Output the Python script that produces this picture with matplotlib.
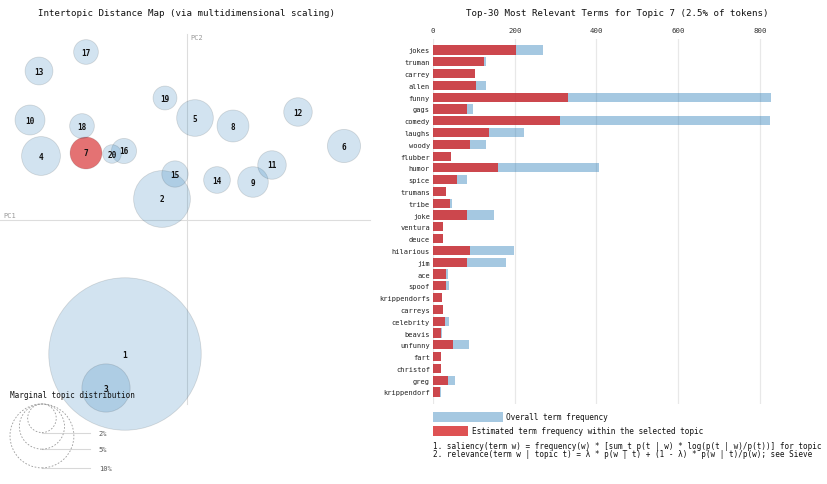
import matplotlib
matplotlib.use("Agg")
import matplotlib.pyplot as plt
from matplotlib.patches import Circle, Rectangle
import numpy as np

plt.rcParams['font.family'] = ['DejaVu Sans Mono', 'Liberation Mono']

# intertopic distance map (PC1 / PC2 coordinates, marginal share in %)
topics = list(range(1, 21))
pc1 = [-0.124, -0.050, -0.162, -0.292, 0.016, 0.314, -0.202, 0.092, 0.132, -0.314,
       0.170, 0.222, -0.296, 0.060, -0.024, -0.126, -0.202, -0.210, -0.044, -0.150]
pc2 = [-0.268, 0.042, -0.336, 0.128, 0.204, 0.148, 0.134, 0.188, 0.076, 0.200,
       0.110, 0.216, 0.298, 0.080, 0.092, 0.138, 0.336, 0.188, 0.244, 0.132]
topic_pct = [57.0, 7.9, 5.7, 3.7, 3.3, 2.7, 2.5, 2.5, 2.3, 2.2,
             2.0, 2.0, 1.9, 1.75, 1.7, 1.55, 1.5, 1.5, 1.4, 0.85]
selected = 7
guide_pct = [2, 5, 10]

# top-30 terms for topic 7
terms = ["jokes", "truman", "carrey", "allen", "funny", "gags", "comedy", "laughs",
         "woody", "flubber", "humor", "spice", "trumans", "tribe", "joke", "ventura",
         "deuce", "hilarious", "jim", "ace", "spoof", "krippendorfs", "carreys",
         "celebrity", "beavis", "unfunny", "fart", "christof", "greg", "krippendorf"]
overall_freq = [269, 130, 103, 130, 827, 99, 825, 222, 129, 45, 406, 84, 32, 47, 149, 25,
                25, 198, 179, 36, 39, 22, 25, 39, 21, 87, 20, 20, 55, 19]
topic_freq = [204, 124, 102, 104, 330, 83, 310, 137, 90, 44, 159, 59, 31, 41, 83, 24,
              24, 90, 84, 31, 31, 21, 24, 30, 20, 49, 19, 19, 37, 18]
xticks = [0, 200, 400, 600, 800]

# footnotes, as far as the screenshot shows them
notes = ["1. saliency(term w) = frequency(w) * [sum_t p(t | w) * log(p(t | w)/p(t))] for topic",
         "2. relevance(term w | topic t) = \u03bb * p(w | t) + (1 - \u03bb) * p(w | t)/p(w); see Sieve"]

blue = "#1f77b4"
red = "#d62728"
W, H = 827, 485


def fx(x):
    return x / W


def fy(y):
    return 1 - y / H


fig = plt.figure(figsize=(W / 100, H / 100), dpi=100)

# ---- left panel: 500 px per unit, origin where PC lines cross
ax = fig.add_axes([0, 0, 380 / W, 465 / H])
ax.set_xlim(-0.374, 0.386)
ax.set_ylim(-0.528, 0.402)
ax.axis("off")

ax.plot([-0.374, 0.366], [0, 0], color="#dddddd", lw=0.8, zorder=0)
ax.plot([0, 0], [0.372, -0.368], color="#dddddd", lw=0.8, zorder=0)
ax.text(-0.368, 0.005, "PC1", color="#999999", fontsize=5, va="bottom")
ax.text(0.006, 0.366, "PC2", color="#999999", fontsize=5, va="center")

k = 0.202  # radius per sqrt(share)
for t, x, y, p in zip(topics, pc1, pc2, topic_pct):
    r = k * np.sqrt(p / 100)
    if t == selected:
        fc = matplotlib.colors.to_rgba(red, 0.65)
    else:
        fc = matplotlib.colors.to_rgba(blue, 0.2)
    ax.add_patch(Circle((x, y), r, facecolor=fc, edgecolor=(0, 0, 0, 0.12), lw=0.6, zorder=1))
for t, x, y in zip(topics, pc1, pc2):
    ax.text(x, y, str(t), ha="center", va="center", fontsize=5.6,
            fontweight="bold", color="#111111", zorder=3)

# marginal topic distribution guide
r_large = k * np.sqrt(max(guide_pct) / 100)
cx = -0.374 + 10 / 500 + r_large
cx2 = cx + 1.5 * r_large
top = -0.368
for pct in guide_pct:
    r = k * np.sqrt(pct / 100)
    ax.add_patch(Circle((cx, top - r), r, fill=False, ec="#999999",
                        ls=(0, (2, 2)), lw=0.6, zorder=2))
    ax.plot([cx, cx2], [top - 2 * r] * 2, color="gray", alpha=0.3, lw=0.8)
    ax.text(cx2 + 0.018, top - 2 * r, f"{pct}%", fontsize=5, color="#555555", va="center")
ax.text(-0.374 + 10 / 500, top + 0.018, "Marginal topic distribution",
        fontsize=5.5, va="center", color="#111111", zorder=3)

fig.text(fx(187), fy(13), "Intertopic Distance Map (via multidimensional scaling)",
         ha="center", va="center", fontsize=6.6, color="#111111")

# ---- right panel: bar chart
ax2 = fig.add_axes([433 / W, (H - 405) / H, 338 / W, 365 / H])
y = np.arange(len(terms))
ax2.barh(y, overall_freq, height=0.78, color=blue, alpha=0.4, zorder=2)
ax2.barh(y, topic_freq, height=0.78, color=red, alpha=0.8, zorder=3)
ax2.set_xlim(0, max(overall_freq))
ax2.set_ylim(len(terms) - 0.5 + 0.52, -0.93)
ax2.set_xticks(xticks)
ax2.set_xticklabels([str(v) for v in xticks])
ax2.xaxis.tick_top()
ax2.set_yticks(y)
ax2.set_yticklabels(terms)
ax2.tick_params(axis="x", length=0, labelsize=5.3, pad=4, colors="#333333")
ax2.tick_params(axis="y", length=0, labelsize=5, pad=2.2, colors="#222222")
ax2.grid(axis="x", color="#e8e8e8", lw=0.9, zorder=0)
ax2.set_axisbelow(True)
for s in ax2.spines.values():
    s.set_visible(False)

fig.text(fx(617), fy(13), "Top-30 Most Relevant Terms for Topic 7 (2.5% of tokens)",
         ha="center", va="center", fontsize=6.6, color="#111111")

# legend
fig.patches.append(Rectangle((fx(433), fy(423)), 70 / W, 10 / H, transform=fig.transFigure,
                             facecolor=blue, alpha=0.4))
fig.patches.append(Rectangle((fx(433), fy(437)), 35 / W, 10 / H, transform=fig.transFigure,
                             facecolor=red, alpha=0.8))
fig.text(fx(506), fy(418), "Overall term frequency", fontsize=5.6, va="center", color="#111111")
fig.text(fx(472), fy(432), "Estimated term frequency within the selected topic",
         fontsize=5.6, va="center", color="#111111")
fig.text(fx(433), fy(446.5), notes[0], fontsize=5.5, va="center", color="#111111")
fig.text(fx(433), fy(454.5), notes[1], fontsize=5.5, va="center", color="#111111")

fig.savefig("out.png", dpi=100)
